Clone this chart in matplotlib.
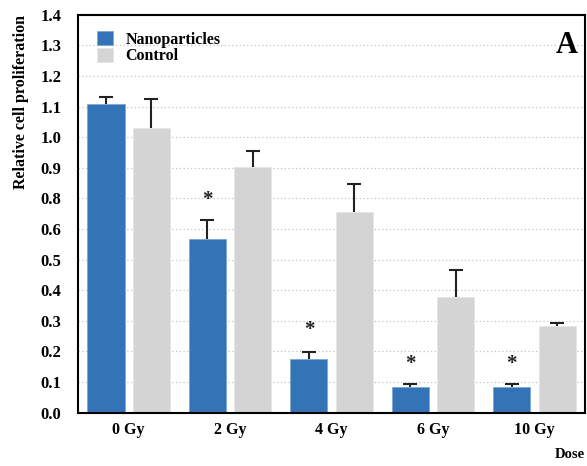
import matplotlib
matplotlib.use("Agg")
import matplotlib.pyplot as plt
import numpy as np

# values (in axis position units)
doses = ["0 Gy", "2 Gy", "4 Gy", "6 Gy", "10 Gy"]
nano = [1.008, 0.567, 0.176, 0.084, 0.083]
nano_err = [0.024, 0.063, 0.023, 0.010, 0.010]
control = [0.929, 0.801, 0.655, 0.379, 0.282]
control_err = [0.096, 0.055, 0.093, 0.086, 0.012]
star_y = [None, 0.696, 0.271, 0.158, 0.158]
# tick labels as printed in the figure (0.7 is missing)
ytick_labels = ["0.0", "0.1", "0.2", "0.3", "0.4", "0.5", "0.6",
                "0.8", "0.9", "1.0", "1.1", "1.2", "1.3", "1.4"]

plt.rcParams["font.family"] = ["Liberation Serif", "DejaVu Serif"]
plt.rcParams["font.weight"] = "bold"

fig = plt.figure(figsize=(5.87, 4.66), dpi=100)
ax = fig.add_axes([0.1329, 0.1144, 0.8642, 0.8541])

x = np.arange(len(doses))
w = 0.365
off = 0.224
blue = "#3374b6"
grey = "#d4d4d4"

ax.bar(x - off, nano, w, color=blue, edgecolor="#7ea6d3", linewidth=0.6,
       label="Nanoparticles", zorder=2)
ax.bar(x + off, control, w, color=grey, edgecolor="#e6e6e6", linewidth=0.6,
       label="Control", zorder=2)
for xs, vals, errs in [(x - off, nano, nano_err), (x + off, control, control_err)]:
    eb = ax.errorbar(xs, vals, yerr=[np.zeros(len(vals)), errs], fmt="none",
                     ecolor="#222222", elinewidth=1.5, capsize=5, capthick=1.5,
                     zorder=3)
    eb[1][0].set_visible(False)  # hide the lower cap

for i, sy in enumerate(star_y):
    if sy is not None:
        ax.text(x[i] - off, sy, "*", ha="center", va="center", fontsize=15,
                fontweight="bold", color="#222222")

ax.set_xlim(-0.5, 4.5)
ax.set_ylim(0, 1.3)
ax.set_yticks(np.arange(14) * 0.1)
ax.set_yticklabels(ytick_labels)
ax.set_xticks(x)
ax.set_xticklabels(doses)
ax.tick_params(axis="y", length=0, pad=12, labelsize=12)
ax.tick_params(axis="x", length=0, pad=7, labelsize=11.5)
ax.yaxis.grid(True, linestyle=(0, (1, 2)), color="#c4c4c4", linewidth=0.9, zorder=0)
ax.set_axisbelow(True)
for s in ax.spines.values():
    s.set_linewidth(1.5)

ax.set_ylabel("Relative cell proliferation", fontsize=11.5, fontweight="bold")
ax.yaxis.set_label_coords(-0.097, 0.78)

ax.legend(loc="upper left", frameon=False, fontsize=11.5, handlelength=1.0,
          handleheight=1.0, handletextpad=0.75, labelspacing=0.0,
          borderaxespad=0.5, bbox_to_anchor=(0.01, 0.995))

ax.text(0.985, 0.96, "A", transform=ax.transAxes, ha="right", va="top",
        fontsize=22, fontweight="bold")
fig.text(0.997, 0.01, "Dose", ha="right", va="bottom", fontsize=10.5,
         fontweight="bold")

fig.savefig("out.png", dpi=100)
